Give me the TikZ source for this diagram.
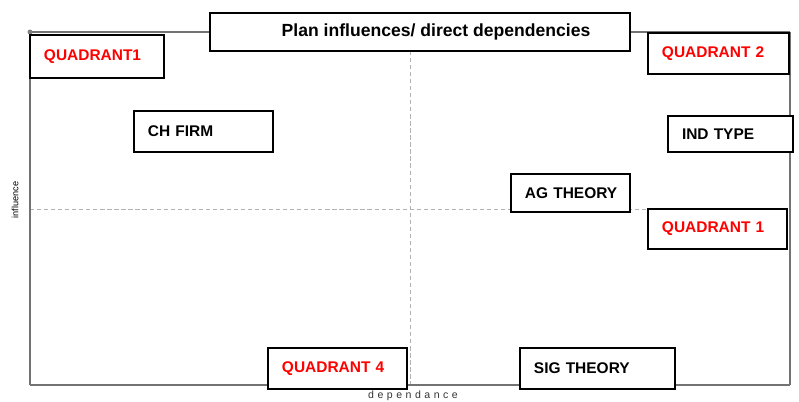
\documentclass[tikz,border=0pt]{standalone}
\usepackage{fontspec}
\setmainfont{Liberation Sans}

\tikzset{
	quadBox/.style={draw=black, fill=white, line width=0.9pt, inner xsep=0.35cm, align=left, font=\bfseries\fontsize{11}{13}\selectfont},
	redTxt/.style={text=red},
	axisLine/.style={draw=black!55, line width=1.7pt},
	midLine/.style={draw=black!30, densely dashed, line width=0.5pt},
}

\begin{document}
\begin{tikzpicture}[x=0.025cm, y=-0.025cm]
	\useasboundingbox (0,0) rectangle (799,401);

	% frame and mid lines
	\draw[midLine] (30,209)--(790,209);
	\draw[midLine] (410,51)--(410,385);
	\draw[axisLine] (30,32)--(790,32);
	\draw[axisLine] (790,32)--(790,385);
	\draw[axisLine] (790,385)--(30,385);
	\draw[axisLine] (30,385)--(30,32);
	\fill[black!50] (30,32) circle (2.5);

	% axis labels
	\node[rotate=90, font=\fontsize{6.5}{7}\selectfont] (lblInf) at (15,200) {influence};
	\node[font=\fontsize{7.5}{8}\selectfont, text=black!80] (lblDep) at (413,396) {d\,\,e\,\,p\,\,e\,\,n\,\,d\,\,a\,\,n\,\,c\,\,e};

	% title
	\node[quadBox, align=center, minimum width=10.5cm, minimum height=0.95cm, inner xsep=0pt, font=\bfseries\fontsize{12.5}{14}\selectfont] (Title) at (420,32) {\hspace*{0.8cm}Plan influences/ direct dependencies};

	% quadrant labels
	\node[quadBox, redTxt, text width=2.65cm, minimum height=1.075cm] (QuadA) at (97,56.5) {QUADRANT1};
	\node[quadBox, redTxt, text width=2.825cm, minimum height=1.025cm] (QuadB) at (718.5,53.5) {QUADRANT 2};
	\node[quadBox, redTxt, text width=2.775cm, minimum height=1.0cm] (QuadC) at (717.5,229) {QUADRANT 1};
	\node[quadBox, redTxt, text width=2.775cm, minimum height=1.025cm] (QuadD) at (337.5,368.5) {QUADRANT 4};

	% variables
	\node[quadBox, text width=2.775cm, minimum height=1.025cm] (ChFirm) at (203.5,131.5) {CH FIRM};
	\node[quadBox, text width=2.425cm, minimum height=0.9cm] (IndType) at (730.5,134) {IND TYPE};
	\node[quadBox, text width=2.275cm, minimum height=0.95cm] (AgTheory) at (570.5,193) {\mbox{AG THEORY}};
	\node[quadBox, text width=3.175cm, minimum height=1.025cm] (SigTheory) at (597.5,368.5) {SIG THEORY};
\end{tikzpicture}
\end{document}
